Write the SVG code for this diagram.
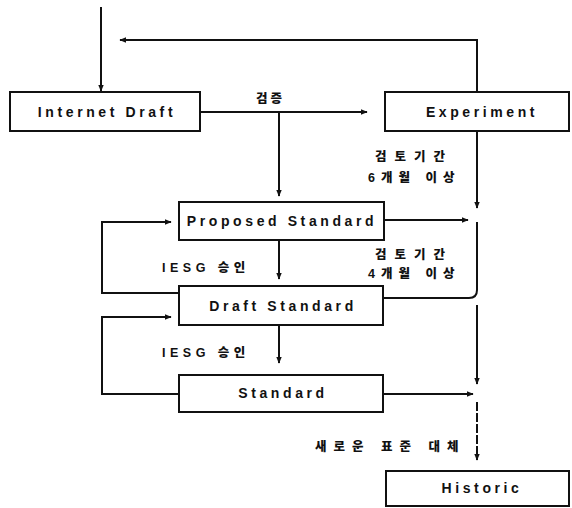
<svg xmlns="http://www.w3.org/2000/svg" width="572" height="508" viewBox="0 0 572 508">
<defs>
<marker id="ah" viewBox="0 0 10 10" refX="9" refY="5" markerWidth="7" markerHeight="7" markerUnits="userSpaceOnUse" orient="auto">
<path d="M0,1 L10,5 L0,9 Z" fill="#111"/>
</marker>
</defs>
<style>
.box{fill:#fff;stroke:#111;stroke-width:2}
.lbl{font-family:"Liberation Sans",Arial,sans-serif;font-weight:bold;font-size:14px;letter-spacing:3.6px;fill:#111;text-anchor:middle}
.kr{font-family:"Liberation Sans","Noto Sans CJK KR",sans-serif;font-weight:900;font-size:12.5px;fill:#111}
.c{fill:none;stroke:#111;stroke-width:2}
.a{marker-end:url(#ah)}
</style>
<rect width="572" height="508" fill="#fff"/>
<g id="connectors">
<path class="c a" d="M101,7 V91"/>
<path class="c a" d="M477,92 V40 H120"/>
<path class="c a" d="M200,112 H367"/>
<path class="c a" d="M279,112 V196"/>
<path class="c a" d="M279,240 V279"/>
<path class="c a" d="M279,325 V363"/>
<path class="c a" d="M477,131 V208"/>
<path class="c a" d="M384,220 H468"/>
<path class="c" d="M477,222 V290 Q477,298 469,298 H383"/>
<path class="c a" d="M477,305 V384"/>
<path class="c a" d="M383,394 H473"/>
<path class="c a" d="M477,402 V460" stroke="#444" stroke-dasharray="9 2"/>
<path class="c a" d="M179,293 H102 V222 H171"/>
<path class="c a" d="M179,394 H102 V317 H171"/>
</g>
<g id="internet-draft">
<rect class="box" x="10" y="92" width="190" height="39"/>
<text class="lbl" x="107" y="117">Internet Draft</text>
</g>
<g id="experiment">
<rect class="box" x="385" y="92" width="184" height="39"/>
<text class="lbl" x="482" y="117">Experiment</text>
</g>
<g id="proposed-standard">
<rect class="box" x="179" y="202" width="205" height="38"/>
<text class="lbl" x="282" y="226">Proposed Standard</text>
</g>
<g id="draft-standard">
<rect class="box" x="179" y="286" width="204" height="39"/>
<text class="lbl" x="283" y="311">Draft Standard</text>
</g>
<g id="standard">
<rect class="box" x="179" y="375" width="204" height="37"/>
<text class="lbl" x="283" y="398">Standard</text>
</g>
<g id="historic">
<rect class="box" x="386" y="471" width="183" height="35"/>
<text class="lbl" x="482" y="493">Historic</text>
</g>
<g id="labels">
<text class="kr" x="256" y="103" letter-spacing="3">검증</text>
<text class="kr" x="375" y="161" letter-spacing="8">검토기간</text>
<text class="kr" x="368" y="182" letter-spacing="6">6개월 이상</text>
<text class="kr" x="375" y="259" letter-spacing="8">검토기간</text>
<text class="kr" x="368" y="278" letter-spacing="6">4개월 이상</text>
<text class="kr" x="162" y="272" font-size="13" letter-spacing="4.5">IESG 승인</text>
<text class="kr" x="162" y="357" font-size="13" letter-spacing="4.5">IESG 승인</text>
<text class="kr" x="315" y="451" letter-spacing="7">새로운 표준 대체</text>
</g>
</svg>
